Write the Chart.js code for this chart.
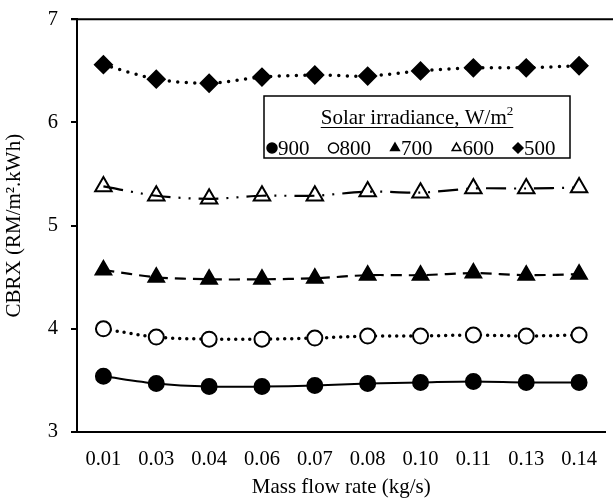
<!DOCTYPE html>
<html lang="en">
<head>
    <meta charset="UTF-8" />
    <title>CBRX vs mass flow rate</title>
    <script src="https://cdn.jsdelivr.net/npm/chart.js"></script>
    <style>
        html, body { margin: 0; padding: 0; background: #fff; overflow: hidden; }
        #wrap { width: 617px; height: 507px; position: relative; top: -6px; }
    </style>
</head>
<body>
<div id="wrap"><canvas id="chart"></canvas></div>

<script>
    // data
    const flowRates = ['0.01', '0.03', '0.04', '0.06', '0.07', '0.08', '0.10', '0.11', '0.13', '0.14'];
    const cbrx900 = [3.54, 3.47, 3.44, 3.44, 3.45, 3.47, 3.48, 3.49, 3.48, 3.48];
    const cbrx800 = [4.00, 3.92, 3.90, 3.90, 3.91, 3.93, 3.93, 3.94, 3.93, 3.94];
    const cbrx700 = [4.57, 4.50, 4.48, 4.48, 4.49, 4.52, 4.52, 4.54, 4.52, 4.53];
    const cbrx600 = [5.38, 5.29, 5.26, 5.29, 5.29, 5.33, 5.32, 5.36, 5.36, 5.37];
    const cbrx500 = [6.56, 6.42, 6.38, 6.44, 6.46, 6.45, 6.50, 6.53, 6.53, 6.55];
    const irradiance = ['900', '800', '700', '600', '500'];
    const yTicks = [3, 4, 5, 6, 7];

    const serif = '"Liberation Serif", "Times New Roman", serif';

    function series(label, data, style, fill, dash, width, radius) {
        return {
            label: label,
            data: data,
            borderColor: '#000',
            borderWidth: width,
            borderDash: dash,
            borderCapStyle: dash.length && dash[0] === 0 ? 'round' : 'butt',
            tension: 0.3,
            pointStyle: style,
            pointRadius: radius,
            pointBorderWidth: 2,
            pointBorderColor: '#000',
            pointBackgroundColor: fill
        };
    }

    // top border + legend box
    const framePlugin = {
        id: 'frame',
        afterDraw(chart) {
            const ctx = chart.ctx;
            const a = chart.chartArea;
            const off = 6; // canvas is shifted up by this much
            ctx.save();
            ctx.strokeStyle = '#000';
            ctx.lineWidth = 2;
            ctx.beginPath();
            ctx.moveTo(a.left - 6, a.top);
            ctx.lineTo(chart.width, a.top);
            ctx.stroke();

            // legend
            const bx = 264, by = 96 + off, bw = 306, bh = 62;
            ctx.fillStyle = '#fff';
            ctx.fillRect(bx, by, bw, bh);
            ctx.lineWidth = 1.5;
            ctx.strokeRect(bx, by, bw, bh);

            ctx.fillStyle = '#000';
            ctx.textBaseline = 'alphabetic';
            ctx.font = '21px ' + serif;
            const t = 'Solar irradiance, W/m';
            const tw = ctx.measureText(t).width;
            ctx.font = '13px ' + serif;
            const sw = ctx.measureText('2').width;
            const tx = bx + bw / 2 - (tw + sw) / 2;
            ctx.font = '21px ' + serif;
            ctx.fillText(t, tx, 124 + off);
            ctx.font = '13px ' + serif;
            ctx.fillText('2', tx + tw, 115 + off);
            ctx.lineWidth = 1;
            ctx.beginPath();
            ctx.moveTo(tx, 127.5 + off);
            ctx.lineTo(tx + tw + sw, 127.5 + off);
            ctx.stroke();

            const styles = [['circle', '#000'], ['circle', '#fff'], ['triangle', '#000'], ['triangle', '#fff'], ['rectRot', '#000']];
            ctx.font = '21px ' + serif;
            irradiance.forEach((lab, i) => {
                const mx = bx + 8 + i * 61.5;
                const my = 148 + off;
                ctx.fillStyle = styles[i][1];
                ctx.strokeStyle = '#000';
                ctx.lineWidth = 1.5;
                Chart.helpers.drawPoint(ctx, { pointStyle: styles[i][0], radius: 5, borderWidth: 1.5, rotation: 0 }, mx, my);
                ctx.fillStyle = '#000';
                ctx.fillText(lab, mx + 6, 155 + off);
            });
            ctx.restore();
        }
    };

    new Chart(document.getElementById('chart'), {
        type: 'line',
        data: {
            labels: flowRates,
            datasets: [
                series('900', cbrx900, 'circle', '#000', [], 2, 7.5),
                series('800', cbrx800, 'circle', '#fff', [0, 7], 3.5, 7.5),
                series('700', cbrx700, 'triangle', '#000', [11, 7], 2.2, 9),
                series('600', cbrx600, 'triangle', 'rgba(0,0,0,0)', [20, 8, 2, 8, 2, 8], 2.2, 9.5),
                series('500', cbrx500, 'rectRot', '#000', [0, 8.5], 3.5, 8.5)
            ]
        },
        options: {
            responsive: true,
            maintainAspectRatio: false,
            animation: false,
            layout: { padding: { top: 10, right: 0, left: 0, bottom: 0 } },
            plugins: { legend: { display: false }, tooltip: { enabled: false } },
            scales: {
                x: {
                    offset: true,
                    grid: { display: false },
                    border: { display: true, color: '#000', width: 2 },
                    ticks: { color: '#000', font: { family: serif, size: 20.5 }, padding: 7, maxRotation: 0, autoSkip: false },
                    title: { display: true, text: 'Mass flow rate (kg/s)', color: '#000', font: { family: serif, size: 21 }, padding: { top: 4, bottom: 1 } },
                    afterFit: s => { s.height = 69; }
                },
                y: {
                    min: 3,
                    max: 7,
                    afterBuildTicks: s => { s.ticks = yTicks.map(v => ({ value: v })); },
                    grid: { display: true, drawOnChartArea: false, drawTicks: true, tickLength: 6, color: '#000', lineWidth: 2 },
                    border: { display: true, color: '#000', width: 2 },
                    ticks: { color: '#000', font: { family: serif, size: 20.5 }, padding: 13 },
                    title: { display: true, text: 'CBRX (RM/m².kWh)', color: '#000', font: { family: serif, size: 21 }, padding: { top: 2, bottom: 4 } },
                    afterFit: s => { s.width = 77; }
                }
            }
        },
        plugins: [framePlugin]
    });
</script>
</body>
</html>
